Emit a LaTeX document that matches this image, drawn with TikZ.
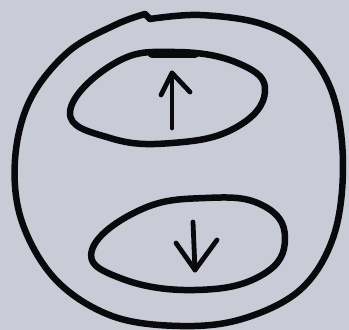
\documentclass[tikz,border=0pt]{standalone}
\definecolor{paper}{RGB}{201,203,215}
\definecolor{ink}{RGB}{10,10,12}
\begin{document}
\begin{tikzpicture}[x=1pt,y=-1pt,
  pen/.style={draw=ink,line width=6.5pt,line cap=round,line join=round},
  thinpen/.style={draw=ink,line width=4.8pt,line cap=round,line join=round}]
\fill[paper] (0,0) rectangle (349,330);
\useasboundingbox (0,0) rectangle (349,330);
% outer loop
\draw[pen] plot[smooth,tension=0.6] coordinates {(150,19) (200,15) (262,24) (306,50) (334,98) (343,168) (333,238) (300,290) (242,319) (180,326) (112,316) (56,280) (22,222) (15,160) (30,100) (68,52) (115,25) (145,14)};
\draw[pen] (145,14) -- (150,19);
% upper ellipse
\draw[pen] plot[smooth cycle,tension=0.75] coordinates {(70,112) (110,138) (172,143) (235,128) (265,92) (240,64) (175,52) (115,63)};
\draw[ink,line width=8.5pt,line cap=round] (152,54) -- (195,54);
% lower ellipse
\draw[pen] plot[smooth cycle,tension=0.75] coordinates {(92,250) (120,278) (195,290) (262,275) (285,238) (262,205) (205,198) (140,210)};
% arrows
\coordinate (ut) at (172,73);
\coordinate (ub) at (172,128);
\draw[thinpen] (ub) -- (ut);
\draw[thinpen] (161,95) -- (ut) -- (190,92);
\coordinate (dt) at (193,222);
\coordinate (db) at (195,270);
\draw[thinpen] (dt) -- (db);
\draw[thinpen] (176,243) -- (db) -- (217,240);
\end{tikzpicture}
\end{document}
